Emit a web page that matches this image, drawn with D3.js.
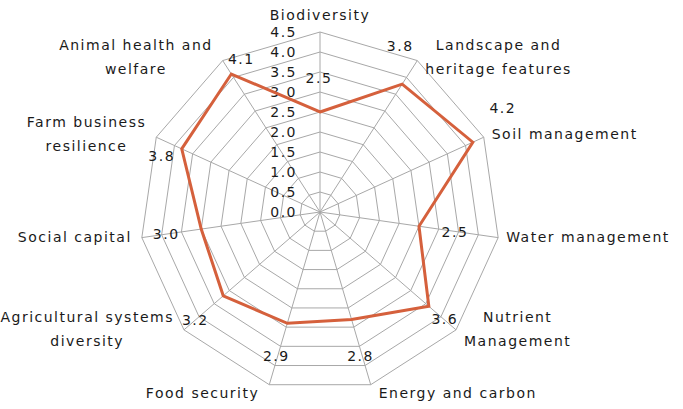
<!DOCTYPE html>
<html>
<head>
<meta charset="utf-8">
<script src="https://cdn.jsdelivr.net/npm/d3@7"></script>
<style>
  body { margin: 0; background: #fff; }
  text { font-family: "DejaVu Sans", sans-serif; font-size: 14px; fill: #1a1a1a; letter-spacing: 1.5px; }
</style>
</head>
<body>
<div id="chart"></div>
<script>
// categories (clockwise from top) and scores
const categories = [
  ['Biodiversity'],
  ['Landscape and', 'heritage features'],
  ['Soil management'],
  ['Water management'],
  ['Nutrient', 'Management'],
  ['Energy and carbon'],
  ['Food security'],
  ['Agricultural systems', 'diversity'],
  ['Social capital'],
  ['Farm business', 'resilience'],
  ['Animal health and', 'welfare']
];
const scores = [2.5, 3.8, 4.2, 2.5, 3.6, 2.8, 2.9, 3.2, 3.0, 3.8, 4.1];
const ticks = [0, 0.5, 1, 1.5, 2, 2.5, 3, 3.5, 4, 4.5];

// where each value label sits relative to its point (px)
const valueLabelOffset = [[-1, -34], [-2, -38], [30, -34], [36, 6], [16, 13], [9, 37],
  [-11, 33], [-28, 24], [-35, 5], [-20, 7], [10, -15]];

const width = 683;
const height = 409;
const cx = 320;
const cy = 212;
const R = 180;

const svg = d3.select('#chart').append('svg')
  .attr('width', width)
  .attr('height', height);

const r = d3.scaleLinear().domain([0, 4.5]).range([0, R]);
const angle = d3.scaleLinear().domain([0, categories.length]).range([0, 2 * Math.PI]);

const pt = (i, v) => [cx + r(v) * Math.sin(angle(i)), cy - r(v) * Math.cos(angle(i))];

// grid rings
const grid = svg.append('g');
grid.selectAll('polygon')
  .data(ticks.slice(1))
  .enter().append('polygon')
  .attr('points', t => categories.map((c, i) => pt(i, t).join(',')).join(' '))
  .attr('fill', 'none')
  .attr('stroke', '#a8a8a8')
  .attr('stroke-width', 1);

// spokes
grid.selectAll('line')
  .data(categories)
  .enter().append('line')
  .attr('x1', cx).attr('y1', cy)
  .attr('x2', (d, i) => pt(i, 4.5)[0])
  .attr('y2', (d, i) => pt(i, 4.5)[1])
  .attr('stroke', '#a8a8a8')
  .attr('stroke-width', 1);

// tick labels
svg.append('g').selectAll('text')
  .data(ticks)
  .enter().append('text')
  .attr('x', cx - 23)
  .attr('y', t => cy - r(t))
  .attr('dy', '0.35em')
  .attr('text-anchor', 'end')
  .text(t => t.toFixed(1));

// series
const line = d3.line().curve(d3.curveLinearClosed);
svg.append('path')
  .attr('d', line(scores.map((v, i) => pt(i, v))))
  .attr('fill', 'none')
  .attr('stroke', '#d5603c')
  .attr('stroke-width', 3)
  .attr('stroke-linejoin', 'miter');

// value labels
svg.append('g').selectAll('text')
  .data(scores)
  .enter().append('text')
  .attr('x', (v, i) => pt(i, v)[0] + valueLabelOffset[i][0])
  .attr('y', (v, i) => pt(i, v)[1] + valueLabelOffset[i][1])
  .attr('dy', '0.35em')
  .attr('text-anchor', 'middle')
  .text(v => v.toFixed(1));

// category labels
const lineH = 24;
categories.forEach((lines, i) => {
  const [vx, vy] = pt(i, 4.5);
  const s = Math.sin(angle(i));
  const c = Math.cos(angle(i));
  const g = svg.append('g');
  const txt = g.selectAll('text')
    .data(lines)
    .enter().append('text')
    .attr('text-anchor', 'middle')
    .attr('dy', '0.35em')
    .text(d => d);
  const w = d3.max(txt.nodes(), n => n.getComputedTextLength());
  let x;
  if (s > 0.1) x = vx + 8 + w / 2;
  else if (s < -0.1) x = vx - 10 - w / 2;
  else x = vx;
  const blockH = (lines.length - 1) * lineH;
  let y0;
  if (c > 0.9) y0 = vy - 17 - blockH;
  else if (c < -0.9) y0 = vy + 8;
  else y0 = vy - 3 - blockH / 2 + 2 * (c < 0 ? 1 : 0);
  txt.attr('x', x).attr('y', (d, k) => y0 + k * lineH);
});
</script>
</body>
</html>
